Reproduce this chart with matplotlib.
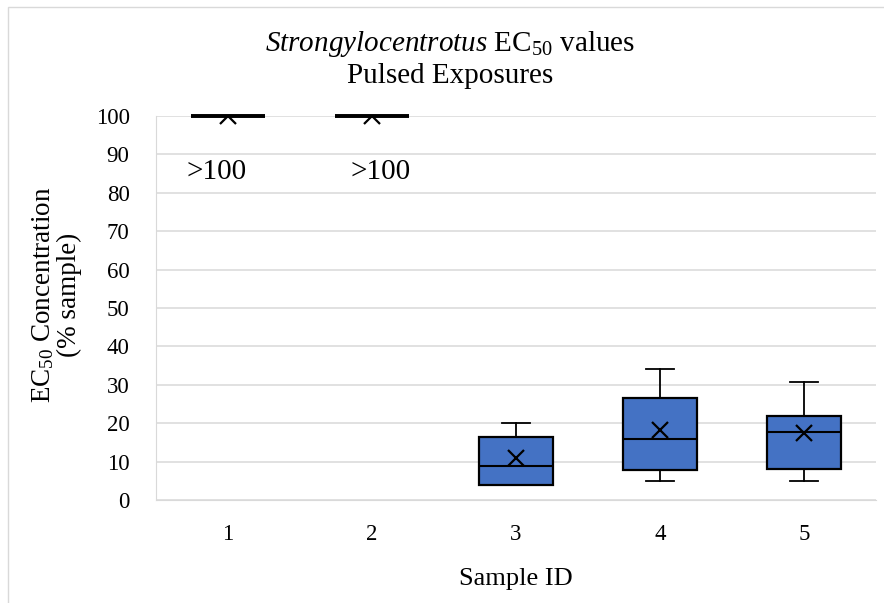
import matplotlib
matplotlib.use("Agg")
import matplotlib.pyplot as plt
from matplotlib.patches import Rectangle

plt.rcParams['font.family'] = ['Liberation Serif', 'DejaVu Serif']
plt.rcParams['mathtext.fontset'] = 'custom'
plt.rcParams['mathtext.rm'] = 'Liberation Serif'
plt.rcParams['mathtext.it'] = 'Liberation Serif:italic'

# values
samples = [1, 2, 3, 4, 5]
whisk_low = [100, 100, 4.0, 5.0, 5.0]
q1 = [100, 100, 4.0, 7.8, 8.2]
medians = [100, 100, 8.9, 15.8, 17.8]
q3 = [100, 100, 16.3, 26.6, 22.0]
whisk_high = [100, 100, 20.1, 34.0, 30.6]
means = [100, 100, 11.0, 18.2, 17.4]
note_labels = [">100", ">100"]
note_x = [0.92, 2.06]
note_y = [85.4, 85.4]

fig = plt.figure(figsize=(8.84, 6.03), dpi=100)
ax = fig.add_axes([156 / 884, 103 / 603, 720 / 884, 384 / 603])

stats = []
for i in range(len(samples)):
    stats.append({
        "whislo": whisk_low[i], "q1": q1[i], "med": medians[i],
        "q3": q3[i], "whishi": whisk_high[i], "mean": means[i],
        "fliers": [],
    })

parts = ax.bxp(stats, positions=samples, widths=0.51, patch_artist=True,
               showmeans=True, meanline=False,
               boxprops=dict(facecolor="#4472C4", edgecolor="black", linewidth=1.6),
               medianprops=dict(color="black", linewidth=1.5),
               whiskerprops=dict(color="black", linewidth=1.3),
               capprops=dict(color="black", linewidth=1.3),
               capwidths=0.2,
               meanprops=dict(marker="x", markeredgecolor="black", markersize=12,
                              markeredgewidth=1.6))

# flat boxes at the 100 ceiling: draw them as a thick bar
for i, v in enumerate(q3):
    if q1[i] == v:
        parts["boxes"][i].set_linewidth(2.6)
        parts["boxes"][i].set_clip_on(False)
        parts["medians"][i].set_linewidth(2.6)
        parts["medians"][i].set_clip_on(False)

for lbl, x, y in zip(note_labels, note_x, note_y):
    ax.text(x, y, lbl, ha="center", va="center", fontsize=21)

ax.set_xlim(0.5, 5.5)
ax.set_ylim(0, 100)
ax.set_yticks(range(0, 101, 10))
ax.set_xticks(samples)
ax.set_xticklabels([str(s) for s in samples])
ax.yaxis.grid(True, color="#d9d9d9", linewidth=1.1)
ax.set_axisbelow(True)
for s in ["top", "right"]:
    ax.spines[s].set_visible(False)
for s in ["left", "bottom"]:
    ax.spines[s].set_color("#d9d9d9")
ax.tick_params(axis="both", length=0, labelsize=16.5)
ax.tick_params(axis="y", pad=19)
ax.tick_params(axis="x", pad=17)

ax.set_xlabel("Sample ID", fontsize=19, labelpad=17)
fig.text(56 / 884, 308 / 603, "EC$_{50}$ Concentration\n(% sample)",
         rotation=90, ha="center", va="center", fontsize=19.5, linespacing=1.05)

fig.text(450 / 884, 1 - 59 / 603,
         r"$\it{Strongylocentrotus}$ EC$_{50}$ values" + "\nPulsed Exposures",
         ha="center", va="center", fontsize=21, linespacing=1.2)

fig.patches.append(Rectangle((8 / 884, -0.05), 1.1, 1 - 7 / 603 + 0.05,
                             transform=fig.transFigure, fill=False,
                             edgecolor="#d9d9d9", linewidth=1))

fig.savefig("out.png", dpi=100)
